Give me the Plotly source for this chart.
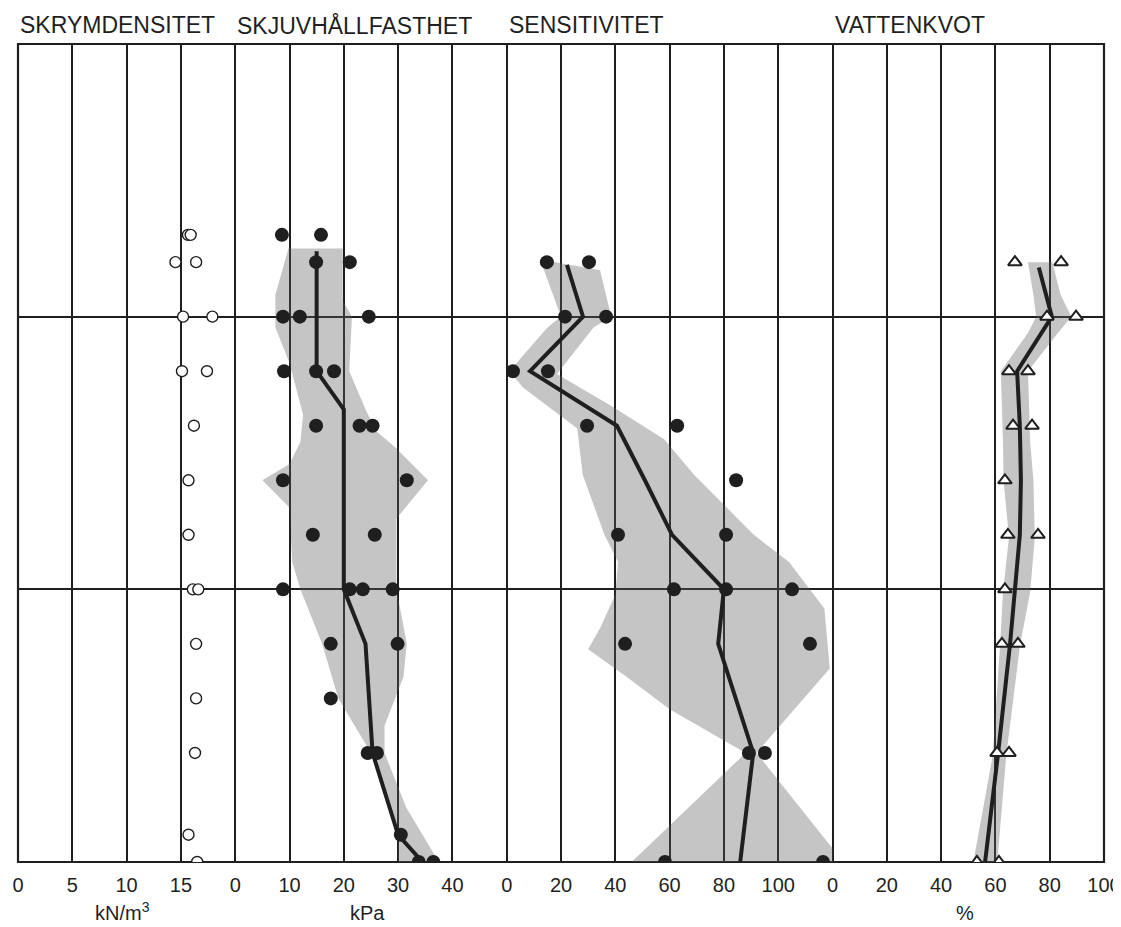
import plotly.graph_objects as go

# ---------------- data (depth in m) ----------------
# Skrymdensitet (kN/m3), open circles
dens_depth = [3.5, 3.5, 4.0, 4.0, 5.0, 5.0, 6.0, 6.0, 7.0, 8.0, 9.0, 10.0, 10.0, 11.0, 12.0, 13.0, 14.5, 15.0]
dens_val = [15.65, 15.9, 14.5, 16.4, 15.2, 17.9, 15.1, 17.4, 16.2, 15.7, 15.7, 16.1, 16.6, 16.4, 16.4, 16.3, 15.7, 16.5]

# Skjuvhallfasthet (kPa), filled dots
shear_depth = [3.5, 3.5, 4.0, 4.0, 5.0, 5.0, 5.0, 6.0, 6.0, 6.0, 7.0, 7.0, 7.0, 8.0, 8.0, 9.0, 9.0,
               10.0, 10.0, 10.0, 10.0, 11.0, 11.0, 12.0, 13.0, 13.0, 14.5, 15.0, 15.0]
shear_val = [8.6, 15.8, 14.9, 21.1, 8.8, 11.9, 24.6, 9.0, 14.9, 18.2, 14.9, 22.9, 25.3, 8.8, 31.6, 14.3, 25.7,
             8.8, 21.1, 23.5, 29.0, 17.6, 29.9, 17.6, 24.4, 26.1, 30.5, 33.8, 36.5]
shear_mean_depth = [3.8, 6.0, 6.7, 10.0, 11.0, 13.0, 14.5, 15.0]
shear_mean_val = [15.0, 15.0, 20.0, 20.0, 24.0, 25.3, 30.0, 34.5]
shear_band_left_depth = [3.75, 4.6, 5.2, 5.85, 6.8, 7.3, 7.7, 8.0, 8.5, 9.5, 10.0, 11.0, 12.0, 13.0, 14.5, 15.0]
shear_band_left_val = [9.8, 7.4, 7.4, 10.0, 12.5, 12.0, 10.0, 5.0, 10.0, 10.5, 12.0, 16.0, 19.0, 25.0, 30.0, 30.0]
shear_band_right_depth = [3.75, 4.7, 5.0, 6.0, 6.7, 7.1, 7.4, 8.0, 8.7, 10.0, 11.0, 11.6, 12.5, 13.0, 14.0, 15.0]
shear_band_right_val = [19.8, 19.8, 21.5, 21.0, 24.0, 26.0, 29.5, 35.5, 29.7, 29.7, 31.6, 31.0, 27.5, 27.5, 31.5, 37.5]

# Sensitivitet, filled dots
sens_depth = [4.0, 4.0, 5.0, 5.0, 6.0, 6.0, 7.0, 7.0, 8.0, 9.0, 9.0, 10.0, 10.0, 10.0, 11.0, 11.0,
              13.0, 13.0, 15.0, 15.0]
sens_val = [14.8, 30.3, 21.5, 36.6, 2.3, 15.2, 29.6, 62.8, 84.5, 41.0, 80.8, 61.6, 80.8, 105.1, 43.6, 111.7,
            89.2, 95.1, 58.3, 116.5]
sens_mean_depth = [4.05, 5.0, 6.0, 7.0, 8.0, 9.0, 10.0, 11.0, 13.0, 15.0]
sens_mean_val = [22.2, 28.1, 8.6, 40.6, 50.9, 60.9, 80.0, 77.9, 90.8, 86.0]
sens_band_left_depth = [3.95, 5.0, 5.2, 6.0, 6.3, 7.05, 7.9, 9.0, 9.5, 10.1, 10.7, 11.1, 11.6, 12.2, 13.0, 15.0]
sens_band_left_val = [12.3, 20.0, 15.0, 1.0, 6.0, 26.0, 28.0, 36.0, 41.0, 40.0, 34.5, 30.0, 44.0, 60.0, 88.0, 46.0]
sens_band_right_depth = [4.15, 5.0, 5.2, 6.05, 6.65, 7.25, 7.9, 9.0, 9.5, 10.35, 11.45, 13.0, 15.0]
sens_band_right_val = [34.4, 38.5, 32.0, 18.5, 39.0, 58.0, 69.0, 91.0, 104.0, 117.0, 119.0, 92.0, 124.0]

# Vattenkvot (%), open triangles
water_depth = [4.0, 4.0, 5.0, 5.0, 6.0, 6.0, 7.0, 7.0, 8.0, 9.0, 9.0, 10.0, 11.0, 11.0, 13.0, 13.0, 15.0, 15.0]
water_val = [67.2, 84.2, 79.0, 89.7, 65.0, 72.0, 66.5, 73.5, 63.5, 64.6, 75.7, 63.5, 62.4, 68.3, 60.6, 65.0, 53.2, 61.3]
water_mean_depth = [4.1, 5.0, 6.0, 7.0, 8.0, 9.0, 10.0, 11.0, 13.0, 15.0]
water_mean_val = [76.0, 80.8, 68.0, 69.0, 69.4, 69.0, 67.2, 65.4, 61.0, 56.2]
water_band_left_depth = [4.0, 4.6, 5.0, 5.3, 6.0, 7.3, 8.0, 9.05, 10.05, 11.05, 13.05, 15.05]
water_band_left_val = [72.0, 74.0, 75.0, 72.0, 62.0, 62.8, 63.0, 65.0, 62.8, 61.7, 59.0, 51.7]
water_band_right_depth = [4.0, 4.6, 5.0, 5.3, 6.0, 7.3, 8.0, 9.05, 10.05, 11.05, 13.05, 15.05]
water_band_right_val = [81.0, 84.0, 88.0, 83.0, 72.0, 72.8, 74.0, 74.5, 72.8, 69.0, 64.0, 60.6]

# axis ticks
dens_ticks = [0, 5, 10, 15]
shear_ticks = [0, 10, 20, 30, 40]
sens_ticks = [0, 20, 40, 60, 80, 100]
water_ticks = [0, 20, 40, 60, 80, 100]
depth_lines = [0, 5, 10, 15]

titles = ["SKRYMDENSITET", "SKJUVHÅLLFASTHET", "SENSITIVITET", "VATTENKVOT"]

# ---------------- style ----------------
INK = "#1f1f1f"
BAND = "rgba(95,95,95,0.36)"
FONT = "Liberation Sans, Arial, sans-serif"

fig = go.Figure()

# empty trace so the full-width grid subplot (x, y) exists
fig.add_trace(go.Scatter(x=[], y=[], xaxis="x", yaxis="y", mode="markers",
                         hoverinfo="skip", showlegend=False))


def add_band(ld, lv, rd, rv, xa):
    fig.add_trace(go.Scatter(
        x=lv + rv[::-1], y=ld + rd[::-1], mode="none", fill="toself",
        fillcolor=BAND, xaxis=xa, yaxis="y", hoverinfo="skip", showlegend=False))


def add_line(d, v, xa):
    fig.add_trace(go.Scatter(
        x=v, y=d, mode="lines", line=dict(color=INK, width=4),
        xaxis=xa, yaxis="y", showlegend=False))


# density
fig.add_trace(go.Scatter(
    x=dens_val, y=dens_depth, mode="markers", xaxis="x2", yaxis="y",
    marker=dict(symbol="circle", size=11, color="white", line=dict(color=INK, width=1.4)),
    showlegend=False))

# shear
add_band(shear_band_left_depth, shear_band_left_val, shear_band_right_depth, shear_band_right_val, "x3")
add_line(shear_mean_depth, shear_mean_val, "x3")
fig.add_trace(go.Scatter(
    x=shear_val, y=shear_depth, mode="markers", xaxis="x3", yaxis="y",
    marker=dict(symbol="circle", size=14, color=INK), showlegend=False))

# sensitivity
add_band(sens_band_left_depth, sens_band_left_val, sens_band_right_depth, sens_band_right_val, "x4")
add_line(sens_mean_depth, sens_mean_val, "x4")
fig.add_trace(go.Scatter(
    x=sens_val, y=sens_depth, mode="markers", xaxis="x4", yaxis="y",
    marker=dict(symbol="circle", size=14, color=INK), showlegend=False))

# water content
add_band(water_band_left_depth, water_band_left_val, water_band_right_depth, water_band_right_val, "x5")
add_line(water_mean_depth, water_mean_val, "x5")
fig.add_trace(go.Scatter(
    x=water_val, y=water_depth, mode="markers", xaxis="x5", yaxis="y",
    marker=dict(symbol="triangle-up", size=12, color="white", line=dict(color=INK, width=2)),
    showlegend=False))

tickfont = dict(family=FONT, size=20, color=INK)


def panel_axis(domain, rng, ticks):
    return dict(domain=domain, range=rng, anchor="y", tickmode="array", tickvals=ticks,
                ticktext=[str(t) for t in ticks], showgrid=True, gridcolor=INK, gridwidth=1.8,
                zeroline=False, showline=False, automargin=False,
                ticks="outside", ticklen=5, tickcolor="rgba(0,0,0,0)", tickfont=tickfont,
                fixedrange=True)


# the page body adds an 8 px offset; margins compensate so the plot frame
# sits at x 18..1104, y 44..862 in the 1121x927 window
fig.update_layout(
    width=1113, height=919,
    margin=dict(l=10, r=17, t=36, b=65),
    paper_bgcolor="white", plot_bgcolor="rgba(0,0,0,0)",
    showlegend=False,
    xaxis=dict(domain=[0, 1], range=[0, 20], anchor="y", tick0=0, dtick=1, showticklabels=False,
               showgrid=True, gridcolor=INK, gridwidth=1.8, zeroline=False, ticks="",
               automargin=False, fixedrange=True),
    xaxis2=panel_axis([0, 0.2], [0, 20], dens_ticks),
    xaxis3=panel_axis([0.2, 0.45], [0, 50], shear_ticks),
    xaxis4=panel_axis([0.45, 0.75], [0, 120], sens_ticks),
    xaxis5=panel_axis([0.75, 1], [0, 100], water_ticks),
    yaxis=dict(domain=[0, 1], range=[15, 0], tickmode="array", tickvals=depth_lines,
               showticklabels=False, showgrid=True, gridcolor=INK, gridwidth=2,
               zeroline=False, ticks="", automargin=False, fixedrange=True),
)

fig.add_shape(type="rect", xref="paper", yref="paper", x0=0, x1=1, y0=0, y1=1,
              line=dict(color=INK, width=2.2), layer="below")

title_x = [0, 0.2, 0.45, 0.75]
for t, x in zip(titles, title_x):
    fig.add_annotation(text=t, xref="paper", yref="paper", x=x, y=1, xanchor="left",
                       yanchor="middle", yshift=19, showarrow=False,
                       font=dict(family=FONT, size=23, color=INK))

units = [("kN/m<sup>3</sup>", 0.096, -49), ("kPa", 0.322, -51), ("%", 0.872, -51)]
for t, x, dy in units:
    fig.add_annotation(text=t, xref="paper", yref="paper", x=x, y=0, xanchor="center",
                       yanchor="middle", yshift=dy, showarrow=False,
                       font=dict(family=FONT, size=20, color=INK))

fig.write_html("out.html")
